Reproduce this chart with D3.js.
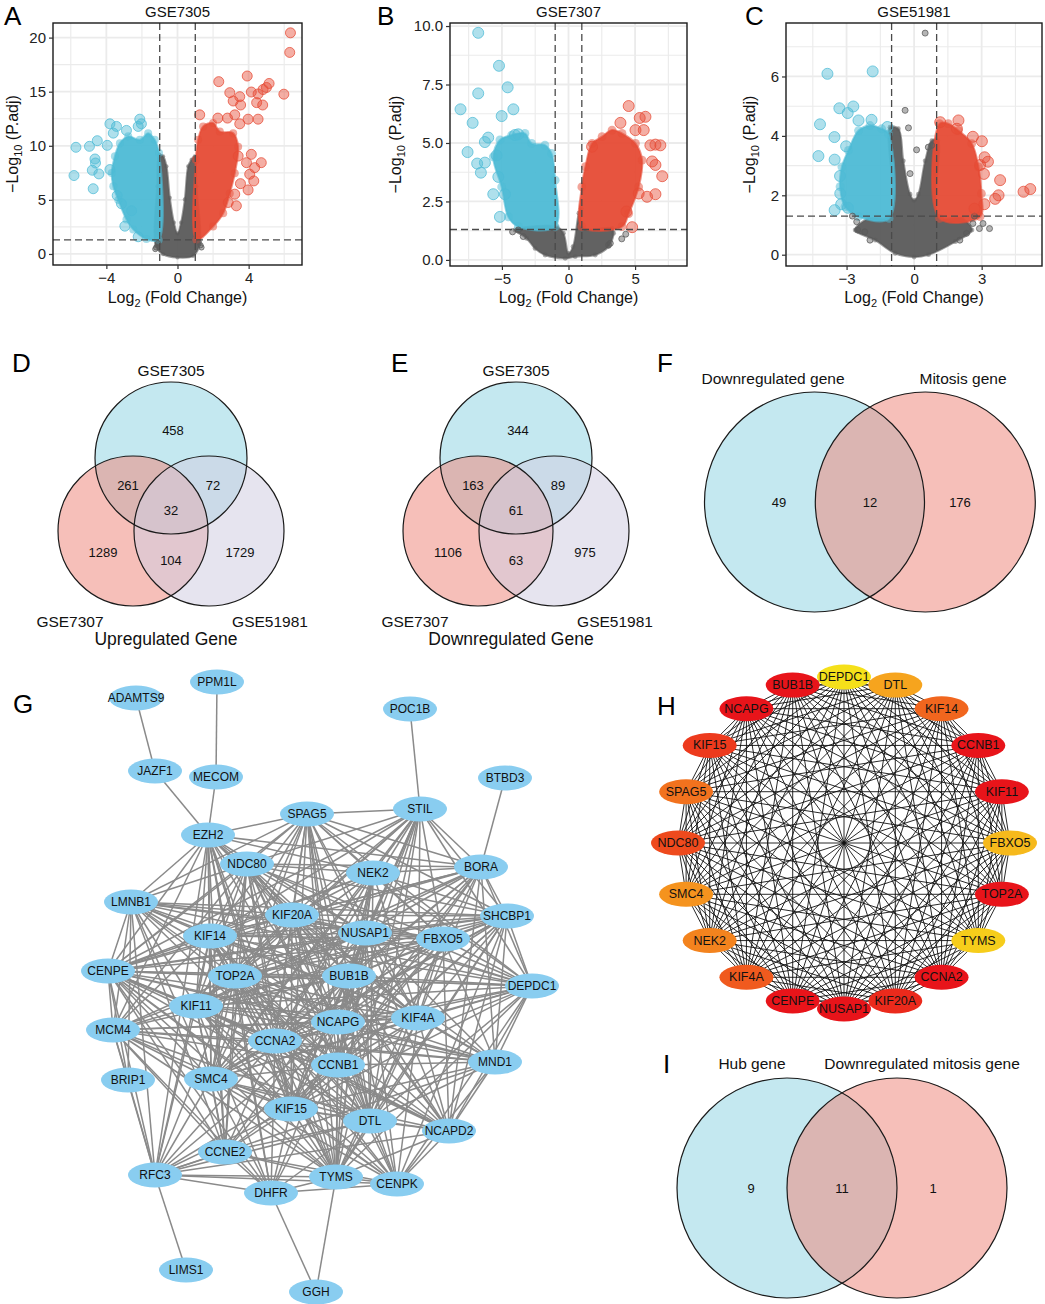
<!DOCTYPE html>
<html><head><meta charset="utf-8">
<script src="https://cdn.jsdelivr.net/npm/d3@7"></script>
<style>body{margin:0;background:#fff;} svg text{font-family:"Liberation Sans",Arial,Helvetica,sans-serif;}</style>
</head><body>
<svg id="fig" width="1045" height="1304"></svg>
<script>
// ================= DATA =================
// Volcano titles / ticks
const volcanoTitles = ["GSE7305", "GSE7307", "GSE51981"];
const volcanoXTicks = [[-4, 0, 4], [-5, 0, 5], [-3, 0, 3]];
const volcanoYTicks = [[0, 5, 10, 15, 20], [0, 2.5, 5, 7.5, 10], [0, 2, 4, 6]];
const foldCutoff = 1;            // |log2FC| threshold
const padjCutoff = 1.30103;      // -log10(0.05)

// GSE7305 (A): dense clouds (outlines) and individual outlying genes [log2FC, -log10 padj]
const aBlueCloud = [[-1.06,1.3],[-1.75,1.38],[-2.49,2.27],[-2.87,3.18],[-3.33,5.0],[-3.61,6.26],[-3.70,7.49],[-3.52,9.03],[-3.24,10.24],[-2.77,10.87],[-2.12,10.56],[-1.65,11.17],[-1.28,10.56],[-1.04,9.33]];
const aBluePts = [[-5.71,9.86],[-5.82,7.25],[-4.95,9.95],[-4.64,8.78],[-4.74,6.03],[-4.51,10.47],[-4.61,8.41],[-4.79,7.74],[-4.42,7.40],[-3.95,10.04],[-3.80,12.03],[-3.43,11.79],[-3.61,11.17],[-2.87,11.42],[-2.12,12.46],[-2.03,12.03],[-2.21,11.79],[-2.96,2.57],[-2.21,1.59],[-3.39,5.40],[-3.15,4.64],[-3.80,7.80],[-2.58,3.99]];
const aGreyCloud = [[-1.22,0.74],[-1.15,6.26],[-1.03,9.18],[-0.81,9.03],[-0.62,8.10],[-0.43,5.2],[-0.2,2.9],[0,1.9],[0.2,2.9],[0.41,5.04],[0.60,8.10],[0.79,8.72],[0.97,9.03],[1.07,6.26],[1.25,0.89],[0.88,-0.18],[0,-0.33],[-0.81,-0.03]];
const aGreyPts = [[-1.2,0.6],[-1.25,0.45],[1.3,0.8],[1.35,0.6],[-1.1,1.0],[1.2,1.1]];
const aRedCloud = [[1.07,1.3],[2.0,2.53],[2.57,3.76],[2.94,5.6],[3.22,7.45],[3.41,9.9],[3.13,11.17],[2.38,11.32],[2.0,12.1],[1.44,11.79],[1.16,10.56],[1.03,8.72]];
const aRedPts = [[6.35,20.44],[6.31,18.63],[5.98,14.77],[3.92,16.45],[2.32,15.93],[2.94,14.91],[3.13,14.14],[3.50,14.54],[4.15,14.97],[4.53,14.79],[4.81,15.2],[5.15,15.76],[5.0,15.39],[3.55,13.77],[4.45,13.99],[4.79,13.77],[3.97,12.46],[4.53,12.46],[3.22,12.86],[2.81,12.56],[1.25,12.86],[2.27,12.56],[3.5,12.03],[4.15,9.21],[4.71,8.44],[4.34,7.98],[4.06,7.37],[4.29,6.75],[3.97,5.92],[3.54,6.5],[3.22,5.53],[3.31,4.45],[2.85,4.76],[3.88,8.44],[3.41,9.05]];

// GSE7307 (B)
const bBlueCloud = [[-1.0,1.42],[-3.77,1.42],[-4.52,1.84],[-5.02,3.12],[-5.65,4.41],[-5.15,5.13],[-4.27,5.34],[-3.27,5.41],[-2.77,4.98],[-1.77,4.91],[-1.27,4.55],[-1.0,3.41]];
const bBluePts = [[-6.78,9.71],[-5.22,8.30],[-4.57,7.38],[-6.78,7.12],[-8.11,6.44],[-4.14,6.44],[-5.02,6.15],[-7.2,5.86],[-7.58,4.61],[-6.86,4.12],[-6.58,3.73],[-6.28,4.16],[-6.28,5.04],[-6.03,5.23],[-5.65,2.81],[-5.15,1.84],[-4.77,2.81],[-4.02,5.34],[-3.77,5.37],[-5.4,4.47],[-5.27,3.55]];
const bGreyCloud = [[-3.77,1.35],[-0.88,1.42],[-0.38,1.14],[0,0.28],[0.34,0.57],[0.78,2.0],[0.96,2.2],[1.03,1.35],[3.27,1.35],[3.39,1.14],[3.01,0.57],[2.01,0.21],[0.5,0.14],[-0.25,0.07],[-1.76,0.21],[-2.51,0.49],[-3.14,0.92],[-4.02,1.28]];
const bGreyPts = [[-3.77,1.28],[-3.4,1.0],[3.01,0.64],[3.14,0.71],[4.0,0.9],[-4.2,1.2],[4.3,1.1]];
const bRedCloud = [[1.0,1.42],[4.02,1.42],[4.52,1.98],[5.27,3.12],[5.53,4.27],[5.03,4.98],[4.02,5.41],[3.27,5.55],[2.52,5.27],[1.77,4.98],[1.27,3.99],[1.0,3.12]];
const bRedPts = [[4.52,6.58],[5.35,6.07],[5.78,6.12],[3.9,5.86],[5.03,5.55],[5.65,5.55],[6.53,4.93],[6.9,4.90],[6.15,4.90],[6.28,4.21],[7.04,3.58],[6.53,4.06],[6.53,2.81],[5.9,2.70],[5.27,2.84],[4.78,1.4],[4.35,2.07],[1.77,4.84]];

// GSE51981 (C)
const cBlueCloud = [[-1.11,1.22],[-2.47,1.28],[-3.07,1.62],[-3.29,2.29],[-3.21,2.96],[-2.92,3.51],[-2.47,4.18],[-1.96,4.35],[-1.44,4.24],[-1.14,4.07]];
const cBluePts = [[-3.85,6.09],[-1.84,6.17],[-3.32,4.93],[-2.70,4.99],[-2.95,4.77],[-4.18,4.39],[-2.47,4.52],[-1.89,4.54],[-3.54,3.96],[-4.25,3.32],[-3.53,3.2],[-3.02,3.65],[-3.29,2.65],[-3.28,2.06],[-3.53,1.5],[-3.24,1.7],[-2.94,1.58],[-1.19,4.3]];
const cGreyCloud = [[-2.62,0.83],[-2.03,1.22],[-1.07,1.28],[-1.07,4.29],[-0.70,4.24],[-0.48,3.16],[-0.18,2.04],[0,1.83],[0.19,2.04],[0.49,3.16],[0.79,3.84],[1.06,3.84],[1.09,1.28],[2.13,1.22],[2.57,0.83],[1.83,0.44],[0.64,0],[0,-0.08],[-0.84,0.05],[-1.73,0.49]];
const cGreyPts = [[0.49,7.46],[-0.40,4.86],[-0.25,4.27],[0.11,3.53],[-0.18,2.73],[0.63,3.62],[0.78,3.68],[-2.74,1.3],[-2.55,1.11],[-2.51,0.83],[-2.19,0.77],[-1.96,0.49],[2.68,1.3],[2.61,1.05],[2.9,0.88],[3.35,0.88],[3.06,1.05],[2.33,0.72],[2.03,0.49]];
const cRedCloud = [[1.13,1.22],[2.93,1.28],[2.99,2.06],[2.86,2.96],[2.56,3.74],[1.97,4.18],[1.52,4.41],[1.13,4.41]];
const cRedPts = [[1.97,4.52],[1.9,4.24],[1.16,4.46],[2.61,3.97],[3.01,3.82],[3.28,3.13],[3.13,3.28],[3.10,2.72],[3.82,2.51],[3.75,2.0],[3.6,1.88],[4.86,2.12],[5.16,2.21],[3.12,1.7],[2.68,1.55],[2.93,3.02]];

// Venn diagrams
const vennUpSets = ["GSE7305", "GSE7307", "GSE51981"];
const vennUpCounts = [458, 261, 72, 32, 1289, 104, 1729];   // A only, A&B, A&C, ABC, B only, B&C, C only
const vennDownCounts = [344, 163, 89, 61, 1106, 63, 975];
const vennFSets = ["Downregulated gene", "Mitosis gene"];
const vennFCounts = [49, 12, 176];
const vennISets = ["Hub gene", "Downregulated mitosis gene"];
const vennICounts = [9, 11, 1];

// PPI network (G)
const hubGenes = ["DEPDC1","DTL","KIF14","CCNB1","KIF11","FBXO5","TOP2A","TYMS","CCNA2","KIF20A","NUSAP1","CENPE","KIF4A","NEK2","SMC4","NDC80","SPAG5","KIF15","NCAPG","BUB1B"];
const hubRank = [20,17,13,1,2,18,5,19,6,9,7,8,12,15,16,11,14,10,4,3];
const extraLinks = {
  STIL: ["SPAG5","POC1B","BORA","NEK2","NUSAP1","KIF20A","NDC80","FBXO5","BUB1B","TOP2A","KIF14","NCAPG","KIF4A","CCNB1","SHCBP1","CCNA2","DEPDC1","KIF11","CENPE","DTL","KIF15","SMC4","TYMS"],
  BORA: ["BTBD3","STIL","SHCBP1","NEK2","NUSAP1","FBXO5","KIF20A","NDC80","BUB1B","KIF4A","CCNB1","DEPDC1","NCAPG","KIF14","CCNA2","KIF11","TOP2A","CENPE","SPAG5","KIF15","MND1","NCAPD2"],
  SHCBP1: ["BORA","DEPDC1","FBXO5","NUSAP1","KIF20A","NEK2","KIF4A","BUB1B","CCNB1","NCAPG","TOP2A","KIF14","KIF11","CCNA2","CENPE","MND1","NCAPD2","DTL","TYMS","SPAG5","NDC80","KIF15","SMC4","LMNB1"],
  MND1: ["DEPDC1","NCAPD2","SHCBP1","BORA","KIF4A","FBXO5","CCNB1","NCAPG","BUB1B","CCNA2","TOP2A","KIF11","CENPE","DTL","NUSAP1","KIF20A","KIF15","CENPK","MCM4","RFC3"],
  NCAPD2: ["MND1","CENPK","DTL","TYMS","KIF4A","CCNB1","NCAPG","BUB1B","TOP2A","CCNA2","SMC4","KIF11","NUSAP1","KIF20A","FBXO5","SHCBP1","DEPDC1","BORA","KIF15","CENPE","NDC80","RFC3"],
  CENPK: ["NCAPD2","TYMS","DTL","CCNB1","NCAPG","KIF4A","MND1","CCNA2","KIF15","SMC4","TOP2A","BUB1B","DEPDC1","SHCBP1","KIF11","CENPE","NUSAP1","DHFR","RFC3","CCNE2"],
  DHFR: ["TYMS","GGH","RFC3","CCNE2","KIF15","SMC4","CCNA2","TOP2A","KIF11","MCM4","DTL","CENPK","CCNB1","CENPE","NCAPG"],
  CCNE2: ["RFC3","DHFR","TYMS","SMC4","KIF15","CCNA2","KIF11","TOP2A","MCM4","CENPE","CCNB1","NCAPG","BUB1B","DTL","CENPK","KIF14","NDC80","EZH2","LMNB1"],
  RFC3: ["LIMS1","MCM4","BRIP1","CCNE2","DHFR","TYMS","CENPK","SMC4","KIF15","KIF11","TOP2A","CCNA2","CENPE","LMNB1","EZH2","KIF14","NCAPG","CCNB1","DTL","NCAPD2","MND1"],
  MCM4: ["CENPE","RFC3","BRIP1","LMNB1","KIF11","TOP2A","SMC4","CCNA2","KIF14","NCAPG","CCNB1","BUB1B","KIF15","DTL","DHFR","CCNE2","TYMS","KIF4A","MND1","EZH2","NDC80","NUSAP1"],
  BRIP1: ["RFC3","MCM4","CENPE","LMNB1"],
  LMNB1: ["EZH2","CENPE","MCM4","KIF14","TOP2A","KIF11","NDC80","KIF20A","NUSAP1","BUB1B","SPAG5","CCNA2","NCAPG","CCNB1","SMC4","SHCBP1","FBXO5","KIF4A","RFC3","CCNE2","BRIP1","DEPDC1"],
  EZH2: ["JAZF1","MECOM","SPAG5","NDC80","LMNB1","KIF14","TOP2A","KIF11","KIF20A","NEK2","NUSAP1","BUB1B","CCNA2","NCAPG","SMC4","CCNB1","KIF4A","BORA","RFC3","CCNE2","MCM4","CENPE","TYMS","DHFR","KIF15"],
  JAZF1: ["ADAMTS9","EZH2"],
  MECOM: ["PPM1L","EZH2"],
  POC1B: ["STIL"],
  BTBD3: ["BORA"],
  LIMS1: ["RFC3"],
  GGH: ["DHFR","TYMS"]
};

// ================= LAYOUT (positions, not data) =================
const gLayout = {
  ADAMTS9:[136,698], PPM1L:[217,682], POC1B:[410,709], JAZF1:[155,771], MECOM:[216,777], BTBD3:[505,778],
  STIL:[420,809], SPAG5:[307,814], EZH2:[208,835], NDC80:[247,864], NEK2:[373,873], BORA:[481,867],
  LMNB1:[131,902], KIF20A:[292,915], SHCBP1:[507,916], KIF14:[210,936], NUSAP1:[365,933], FBXO5:[443,939],
  CENPE:[108,971], TOP2A:[235,976], BUB1B:[349,976], DEPDC1:[532,986], KIF11:[196,1006], NCAPG:[338,1022],
  KIF4A:[418,1018], MCM4:[113,1030], CCNA2:[275,1041], CCNB1:[338,1065], MND1:[495,1062], BRIP1:[128,1080],
  SMC4:[211,1079], KIF15:[291,1109], DTL:[370,1121], NCAPD2:[449,1131], CCNE2:[225,1152], RFC3:[155,1175],
  TYMS:[336,1177], CENPK:[397,1184], DHFR:[271,1193], LIMS1:[186,1270], GGH:[316,1292]
};

const FONT = "'Liberation Sans', Arial, Helvetica, sans-serif";
const BLUE = "#4DBBD5", RED = "#E64B35", GREY = "#5A5A5A";
const svg = d3.select("#fig");
svg.append("rect").attr("width",1045).attr("height",1304).attr("fill","#fff");

function letter(t, x, y) {
  svg.append("text").attr("x", x).attr("y", y).attr("font-size", 26).attr("fill", "#000").text(t);
}

// ================= VOLCANO =================
function volcano(cfg) {
  const x = d3.scaleLinear().domain(cfg.xd).range([cfg.l, cfg.r]);
  const y = d3.scaleLinear().domain(cfg.yd).range([cfg.b, cfg.t]);
  const cid = "clip" + cfg.id;
  svg.append("clipPath").attr("id", cid).append("rect")
    .attr("x", cfg.l).attr("y", cfg.t).attr("width", cfg.r - cfg.l).attr("height", cfg.b - cfg.t);
  const p = svg.append("g").attr("clip-path", `url(#${cid})`);
  // grid
  p.selectAll(null).data(cfg.xg).join("line")
    .attr("x1", d => x(d)).attr("x2", d => x(d)).attr("y1", cfg.t).attr("y2", cfg.b)
    .attr("stroke", "#EBEBEB").attr("stroke-width", d => cfg.xt.includes(d) ? 1.8 : 1.1);
  p.selectAll(null).data(cfg.yg).join("line")
    .attr("y1", d => y(d)).attr("y2", d => y(d)).attr("x1", cfg.l).attr("x2", cfg.r)
    .attr("stroke", "#EBEBEB").attr("stroke-width", d => cfg.yt.includes(d) ? 1.8 : 1.1);
  const line = d3.line().x(d => x(d[0])).y(d => y(d[1])).curve(d3.curveCatmullRomClosed.alpha(0.5));
  const groups = [
    {cloud: cfg.grey, pts: cfg.greyPts, col: GREY, r: cfg.gr},
    {cloud: cfg.blue, pts: cfg.bluePts, col: BLUE, r: cfg.cr},
    {cloud: cfg.red, pts: cfg.redPts, col: RED, r: cfg.cr}
  ];
  groups.forEach(gp => {
    p.append("path").attr("d", line(gp.cloud)).attr("fill", gp.col).attr("fill-opacity", 0.95)
      .attr("stroke", gp.col).attr("stroke-width", 2).attr("stroke-opacity", 0.6);
    p.selectAll(null).data(gp.cloud).join("circle")
      .attr("cx", d => x(d[0])).attr("cy", d => y(d[1])).attr("r", gp.r * 0.8)
      .attr("fill", gp.col).attr("fill-opacity", 0.5);
  });
  groups.forEach(gp => {
    p.selectAll(null).data(gp.pts).join("circle")
      .attr("cx", d => x(d[0])).attr("cy", d => y(d[1])).attr("r", gp.r)
      .attr("fill", gp.col).attr("fill-opacity", 0.45)
      .attr("stroke", gp.col).attr("stroke-opacity", 0.75).attr("stroke-width", 1);
  });
  // threshold lines
  const dash = {stroke: "#4a4a4a", "stroke-width": 1.3, "stroke-dasharray": "7,4"};
  [-foldCutoff, foldCutoff].forEach(v => {
    const l = p.append("line").attr("x1", x(v)).attr("x2", x(v)).attr("y1", cfg.t).attr("y2", cfg.b);
    Object.entries(dash).forEach(([k, val]) => l.attr(k, val));
  });
  const hl = p.append("line").attr("x1", cfg.l).attr("x2", cfg.r).attr("y1", y(padjCutoff)).attr("y2", y(padjCutoff));
  Object.entries(dash).forEach(([k, val]) => hl.attr(k, val));
  // border
  svg.append("rect").attr("x", cfg.l).attr("y", cfg.t).attr("width", cfg.r - cfg.l).attr("height", cfg.b - cfg.t)
    .attr("fill", "none").attr("stroke", "#1a1a1a").attr("stroke-width", 1.4);
  // axes
  const fmt = cfg.fmt;
  const ax = svg.append("g").attr("transform", `translate(0,${cfg.b})`)
    .call(d3.axisBottom(x).tickValues(cfg.xt).tickSize(4).tickPadding(3).tickFormat(d => fmt(d).replace("-", "\u2212")));
  const ay = svg.append("g").attr("transform", `translate(${cfg.l},0)`)
    .call(d3.axisLeft(y).tickValues(cfg.yt).tickSize(4).tickPadding(3).tickFormat(cfg.yfmt));
  [ax, ay].forEach(a => {
    a.select(".domain").remove();
    a.selectAll(".tick line").attr("stroke", "#333").attr("stroke-width", 1.2);
    a.selectAll(".tick text").attr("font-size", 15).attr("fill", "#222").attr("font-family", FONT);
  });
  // title
  svg.append("text").attr("x", (cfg.l + cfg.r) / 2).attr("y", 17).attr("text-anchor", "middle")
    .attr("font-size", 15).attr("fill", "#111").text(cfg.title);
  // x label
  const xl = svg.append("text").attr("x", (cfg.l + cfg.r) / 2).attr("y", 303).attr("text-anchor", "middle")
    .attr("font-size", 16).attr("fill", "#111");
  xl.append("tspan").text("Log");
  xl.append("tspan").attr("font-size", 11).attr("dy", 4).text("2");
  xl.append("tspan").attr("dy", -4).text(" (Fold Change)");
  // y label
  const yl = svg.append("text").attr("transform", `translate(${cfg.yl},${(cfg.t + cfg.b) / 2}) rotate(-90)`)
    .attr("text-anchor", "middle").attr("font-size", 16).attr("fill", "#111");
  yl.append("tspan").text("\u2212Log");
  yl.append("tspan").attr("font-size", 11).attr("dy", 4).text("10");
  yl.append("tspan").attr("dy", -4).text(" (P.adj)");
}

const rng = (a, b, s) => d3.range(a, b + s / 2, s);
volcano({id: "A", l: 53, r: 302, t: 23, b: 265, xd: [-7, 7], yd: [-1.02, 21.35],
  xt: volcanoXTicks[0], yt: volcanoYTicks[0], xg: [-6,-4,-2,0,2,4,6], yg: rng(0, 20, 2.5),
  fmt: d3.format("d"), yfmt: d3.format("d"), title: volcanoTitles[0], yl: 18, cr: 5, gr: 2.6,
  grey: aGreyCloud, greyPts: aGreyPts, blue: aBlueCloud, bluePts: aBluePts, red: aRedCloud, redPts: aRedPts});
volcano({id: "B", l: 450, r: 687, t: 23, b: 266, xd: [-8.9, 8.9], yd: [-0.26, 10.13],
  xt: volcanoXTicks[1], yt: volcanoYTicks[1], xg: [-7.5,-5,-2.5,0,2.5,5,7.5], yg: rng(0, 10, 1.25),
  fmt: d3.format("d"), yfmt: d3.format(".1f"), title: volcanoTitles[1], yl: 401, cr: 5.5, gr: 3,
  grey: bGreyCloud, greyPts: bGreyPts, blue: bBlueCloud, bluePts: bBluePts, red: bRedCloud, redPts: bRedPts});
volcano({id: "C", l: 786, r: 1042, t: 23, b: 266, xd: [-5.69, 5.68], yd: [-0.38, 7.8],
  xt: volcanoXTicks[2], yt: volcanoYTicks[2], xg: [-4.5,-3,-1.5,0,1.5,3,4.5], yg: rng(0, 7, 1),
  fmt: d3.format("d"), yfmt: d3.format("d"), title: volcanoTitles[2], yl: 755, cr: 5.5, gr: 3,
  grey: cGreyCloud, greyPts: cGreyPts, blue: cBlueCloud, bluePts: cBluePts, red: cRedCloud, redPts: cRedPts});

// ================= VENN =================
const VBLUE = "#93D5E4", VRED = "#EE8A80", VLAV = "#D2CEE2";
const VOP = 0.55;
function venn3(ox, counts, sets, title) {
  const g = svg.append("g").attr("transform", `translate(${ox},0)`);
  const circles = [
    {cx: 171, cy: 458, r: 76, col: VBLUE},
    {cx: 133, cy: 531, r: 75, col: VRED},
    {cx: 209, cy: 531, r: 75, col: VLAV}
  ];
  circles.forEach(c => g.append("circle").attr("cx", c.cx).attr("cy", c.cy).attr("r", c.r)
    .attr("fill", c.col).attr("fill-opacity", VOP));
  circles.forEach(c => g.append("circle").attr("cx", c.cx).attr("cy", c.cy).attr("r", c.r)
    .attr("fill", "none").attr("stroke", "#1a1a1a").attr("stroke-width", 1.2));
  const pos = [[173,430],[128,485],[213,485],[171,510],[103,552],[171,560],[240,552]];
  g.selectAll(null).data(counts).join("text").attr("x", (d, i) => pos[i][0]).attr("y", (d, i) => pos[i][1])
    .attr("text-anchor", "middle").attr("dominant-baseline", "central").attr("font-size", 13).attr("fill", "#111").text(d => d);
  const lp = [[171,370],[70,621],[270,621]];
  g.selectAll(null).data(sets).join("text").attr("x", (d, i) => lp[i][0]).attr("y", (d, i) => lp[i][1])
    .attr("text-anchor", "middle").attr("dominant-baseline", "central").attr("font-size", 15.5).attr("fill", "#111").text(d => d);
  g.append("text").attr("x", 166).attr("y", 639).attr("text-anchor", "middle").attr("dominant-baseline", "central")
    .attr("font-size", 17.5).attr("fill", "#111").text(title);
}
venn3(0, vennUpCounts, vennUpSets, "Upregulated Gene");
venn3(345, vennDownCounts, vennUpSets, "Downregulated Gene");

function venn2(c1, c2, r, cy, counts, sets, labelX, labelY, numX) {
  const g = svg.append("g");
  [[c1, VBLUE], [c2, VRED]].forEach(([cx, col]) => g.append("circle").attr("cx", cx).attr("cy", cy).attr("r", r)
    .attr("fill", col).attr("fill-opacity", VOP));
  [c1, c2].forEach(cx => g.append("circle").attr("cx", cx).attr("cy", cy).attr("r", r)
    .attr("fill", "none").attr("stroke", "#1a1a1a").attr("stroke-width", 1.2));
  g.selectAll(null).data(counts).join("text").attr("x", (d, i) => numX[i]).attr("y", cy)
    .attr("text-anchor", "middle").attr("dominant-baseline", "central").attr("font-size", 13).attr("fill", "#111").text(d => d);
  g.selectAll(null).data(sets).join("text").attr("x", (d, i) => labelX[i]).attr("y", labelY)
    .attr("text-anchor", "middle").attr("dominant-baseline", "central").attr("font-size", 15.5).attr("fill", "#111").text(d => d);
}
venn2(814.5, 925.3, 110, 502, vennFCounts, vennFSets, [773, 963], 378, [779, 870, 960]);
venn2(787, 897, 110, 1188, vennICounts, vennISets, [752, 922], 1063, [751, 842, 933]);

// ================= PPI NETWORK (G) =================
const edgeSet = new Map();
function addEdge(a, b) { const k = a < b ? a + "|" + b : b + "|" + a; if (!edgeSet.has(k)) edgeSet.set(k, [a, b]); }
hubGenes.forEach((a, i) => hubGenes.forEach((b, j) => { if (j > i) addEdge(a, b); }));
Object.entries(extraLinks).forEach(([a, list]) => list.forEach(b => addEdge(a, b)));
const gEdges = Array.from(edgeSet.values());
const gNodes = Object.keys(gLayout);
const G = svg.append("g");
G.selectAll(null).data(gEdges).join("line")
  .attr("x1", d => gLayout[d[0]][0]).attr("y1", d => gLayout[d[0]][1])
  .attr("x2", d => gLayout[d[1]][0]).attr("y2", d => gLayout[d[1]][1])
  .attr("stroke", "#8A8A8A").attr("stroke-width", 1.5);
G.selectAll(null).data(gNodes).join("ellipse")
  .attr("cx", d => gLayout[d][0]).attr("cy", d => gLayout[d][1]).attr("rx", 27).attr("ry", 12.5)
  .attr("fill", "#89CDF0");
G.selectAll(null).data(gNodes).join("text")
  .attr("x", d => gLayout[d][0]).attr("y", d => gLayout[d][1]).attr("text-anchor", "middle")
  .attr("dominant-baseline", "central").attr("font-size", 12).attr("fill", "#111").text(d => d);

// ================= HUB NETWORK (H) =================
const hubColor = d3.scaleLinear().domain([1, 8, 9, 12, 14, 17, 18, 20])
  .range(["#E8141A", "#E8141A", "#EB2A1C", "#F05A1E", "#F2721E", "#F6A41E", "#F6B91C", "#F5E01A"]);
const hcx = 844, hcy = 843, hR = 166;
const hubPos = hubGenes.map((n, i) => {
  const a = (-90 + i * 360 / hubGenes.length) * Math.PI / 180;
  return [hcx + hR * Math.cos(a), hcy + hR * Math.sin(a)];
});
const hubEdges = [];
hubGenes.forEach((a, i) => hubGenes.forEach((b, j) => { if (j > i) hubEdges.push([i, j]); }));
const H = svg.append("g");
H.selectAll(null).data(hubEdges).join("line")
  .attr("x1", d => hubPos[d[0]][0]).attr("y1", d => hubPos[d[0]][1])
  .attr("x2", d => hubPos[d[1]][0]).attr("y2", d => hubPos[d[1]][1])
  .attr("stroke", "#111").attr("stroke-width", 0.9);
H.selectAll(null).data(hubGenes).join("ellipse")
  .attr("cx", (d, i) => hubPos[i][0]).attr("cy", (d, i) => hubPos[i][1]).attr("rx", 27).attr("ry", 12.5)
  .attr("fill", (d, i) => hubColor(hubRank[i]));
H.selectAll(null).data(hubGenes).join("text")
  .attr("x", (d, i) => hubPos[i][0]).attr("y", (d, i) => hubPos[i][1]).attr("text-anchor", "middle")
  .attr("dominant-baseline", "central").attr("font-size", 12.5).attr("fill", "#111").text(d => d);

// ================= PANEL LETTERS =================
[["A",4,25],["B",377,25],["C",745,25],["D",12,372],["E",391,372],["F",657,372],["G",13,713],["H",657,715],["I",663,1073]]
  .forEach(d => letter(d[0], d[1], d[2]));
</script>
</body></html>
